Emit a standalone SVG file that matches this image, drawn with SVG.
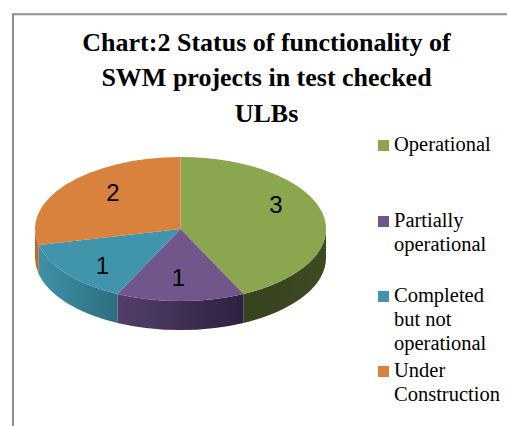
<svg xmlns="http://www.w3.org/2000/svg" width="507" height="426" viewBox="0 0 507 426">
  <style>
    .title { font-weight: bold; font-size: 26px; fill: #000; text-anchor: middle; }
    .legend { font-size: 20.5px; fill: #000; }
    .val { font-family: "Liberation Sans", Arial, sans-serif; font-size: 24px; fill: #000; text-anchor: middle; }
    .frame { fill: none; stroke: #8f8f8f; stroke-width: 2; }
  </style>
  <defs>
    <linearGradient id="gPurpleSide" x1="0" y1="0" x2="1" y2="0">
      <stop offset="0" stop-color="#523f69"/>
      <stop offset="1" stop-color="#2e2140"/>
    </linearGradient>
    <linearGradient id="gTealSide" x1="0" y1="0" x2="1" y2="0">
      <stop offset="0" stop-color="#3f90a7"/>
      <stop offset="1" stop-color="#2d6e80"/>
    </linearGradient>
    <linearGradient id="gGreenSide" x1="0" y1="0" x2="1" y2="0">
      <stop offset="0" stop-color="#37421f"/>
      <stop offset="1" stop-color="#3d4a22"/>
    </linearGradient>
  </defs>

  <path class="frame" d="M13,426 V14.3 H507"/>

  <g id="title" font-family="Liberation Serif, DejaVu Serif, serif">
    <text class="title" x="266.5" y="50.5">Chart:2 Status of functionality of</text>
    <text class="title" x="266.5" y="86">SWM projects in test checked</text>
    <text class="title" x="266.5" y="121.5">ULBs</text>
  </g>

  <g id="pie-sides">
    <path id="side-operational" fill="url(#gGreenSide)" d="M326,229 A145.5,72 0 0,1 243.6,293.9 L243.6,322.9 A145.5,72 0 0,0 326,258 Z"/>
    <path id="side-partially" fill="url(#gPurpleSide)" d="M243.6,293.9 A145.5,72 0 0,1 117.4,293.9 L117.4,322.9 A145.5,72 0 0,0 243.6,322.9 Z"/>
    <path id="side-completed" fill="url(#gTealSide)" d="M117.4,293.9 A145.5,72 0 0,1 38.65,245 L38.65,274 A145.5,72 0 0,0 117.4,322.9 Z"/>
    <path id="side-under" fill="#b96a2f" d="M38.65,245 A145.5,72 0 0,1 35,229 L35,258 A145.5,72 0 0,0 38.65,274 Z"/>
  </g>

  <g id="slice-operational">
    <path fill="#8aa64f" d="M180.5,229 L180.5,157 A145.5,72 0 0,1 243.6,293.9 Z"/>
    <text class="val" x="276" y="212.7">3</text>
  </g>
  <g id="slice-partially">
    <path fill="#71568c" d="M180.5,229 L243.6,293.9 A145.5,72 0 0,1 117.4,293.9 Z"/>
    <text class="val" x="178.5" y="286">1</text>
  </g>
  <g id="slice-completed">
    <path fill="#4095ad" d="M180.5,229 L117.4,293.9 A145.5,72 0 0,1 38.65,245 Z"/>
    <text class="val" x="102.5" y="274">1</text>
  </g>
  <g id="slice-under">
    <path fill="#d9823e" d="M180.5,229 L38.65,245 A145.5,72 0 0,1 180.5,157 Z"/>
    <text class="val" x="113" y="200.7">2</text>
  </g>

  <g id="legend" font-family="Liberation Serif, DejaVu Serif, serif">
    <g id="legend-operational">
      <rect x="378" y="140" width="11" height="11" fill="#8aa64f"/>
      <text class="legend" x="394" y="151">Operational</text>
    </g>
    <g id="legend-partially">
      <rect x="378" y="216" width="11" height="11" fill="#71568c"/>
      <text class="legend" x="394" y="227">Partially</text>
      <text class="legend" x="394" y="251">operational</text>
    </g>
    <g id="legend-completed">
      <rect x="378" y="291" width="11" height="11" fill="#4095ad"/>
      <text class="legend" x="394" y="302">Completed</text>
      <text class="legend" x="394" y="326">but not</text>
      <text class="legend" x="394" y="350">operational</text>
    </g>
    <g id="legend-under">
      <rect x="378" y="366" width="11" height="11" fill="#d9823e"/>
      <text class="legend" x="394" y="377">Under</text>
      <text class="legend" x="394" y="401">Construction</text>
    </g>
  </g>
</svg>
